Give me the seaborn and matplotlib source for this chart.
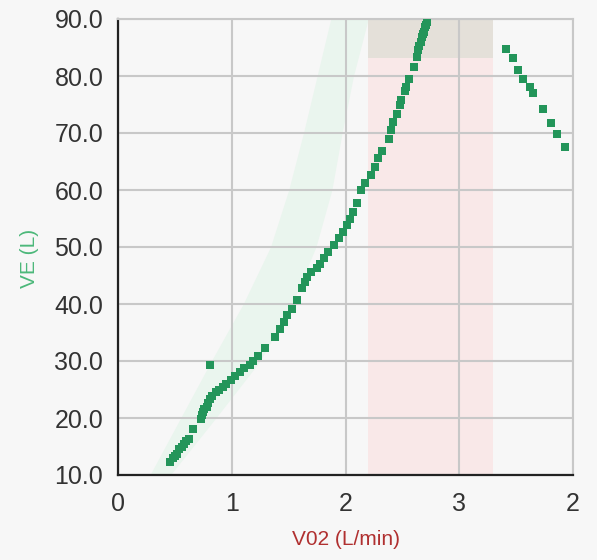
import matplotlib
matplotlib.use('Agg')
import matplotlib.pyplot as plt
import seaborn as sns
import pandas as pd

# ---- data ----
vo2 = [0.46, 0.48, 0.50, 0.52, 0.54, 0.56, 0.58, 0.60, 0.62, 0.66,
       0.73, 0.74, 0.75, 0.76, 0.78, 0.79, 0.81, 0.83, 0.86, 0.89,
       0.92, 0.95, 0.99, 1.03, 1.07, 1.11, 1.16, 1.19, 1.23, 1.29,
       1.38, 1.42, 1.46, 1.49, 1.53, 1.57, 1.62, 1.64, 1.66, 1.70,
       1.75, 1.78, 1.81, 1.85, 1.90, 1.94, 1.98, 2.01, 2.04, 2.07,
       2.10, 2.14, 2.17, 2.22, 2.26, 2.29, 2.32, 2.38, 2.40, 2.42,
       2.45, 2.48, 2.49, 2.52, 2.53, 2.56, 2.60, 2.63, 2.64, 2.65,
       2.66, 2.67, 2.68, 2.69, 2.70, 2.71, 2.72,
       0.81,
       3.41, 3.47, 3.52, 3.56, 3.62, 3.65, 3.74, 3.81, 3.86, 3.93]
ve = [12.2, 12.9, 13.3, 13.6, 14.5, 15.0, 15.5, 15.9, 16.4, 18.0,
      19.9, 20.5, 21.0, 21.5, 22.0, 22.7, 23.3, 23.9, 24.5, 25.0,
      25.5, 26.0, 26.7, 27.3, 28.1, 28.7, 29.3, 30.0, 30.8, 32.2,
      34.2, 35.7, 36.9, 38.1, 39.2, 40.7, 42.8, 43.9, 44.8, 45.7,
      46.3, 47.1, 48.0, 49.2, 50.4, 51.5, 52.7, 53.9, 55.0, 56.2,
      57.7, 60.0, 61.3, 62.6, 64.1, 65.6, 66.8, 68.9, 70.5, 71.9,
      73.3, 75.0, 75.8, 77.4, 78.1, 79.5, 81.6, 83.4, 84.6, 85.3,
      86.0, 86.9, 87.3, 87.8, 88.6, 89.0, 89.5,
      29.3,
      84.7, 83.2, 81.1, 79.4, 78.0, 77.0, 74.2, 71.7, 69.9, 67.6]

band_ve = [10, 20, 30, 40, 50, 60, 70, 80, 90]
band_left = [0.28, 0.55, 0.82, 1.10, 1.34, 1.50, 1.63, 1.75, 1.87]
band_right = [0.46, 0.86, 1.25, 1.53, 1.74, 1.88, 1.97, 2.07, 2.20]

zone_x = [2.2, 3.3]
zone_top = [83.2, 90.0]

x_ticks = [0, 1, 2, 3, 4]
x_labels = ["0", "1", "2", "3", "2"]
y_ticks = [10, 20, 30, 40, 50, 60, 70, 80, 90]
y_labels = ["10.0", "20.0", "30.0", "40.0", "50.0", "60.0", "70.0", "80.0", "90.0"]

df = pd.DataFrame({"VO2": vo2, "VE": ve})

sns.set_theme(style="whitegrid")
plt.rcParams['font.family'] = ['Liberation Sans', 'DejaVu Sans']

bg = '#f7f7f7'
fig = plt.figure(figsize=(5.97, 5.60), dpi=100, facecolor=bg)
ax = fig.add_axes([118/597, 1-475/560, (573-118)/597, (475-19)/560])
ax.set_facecolor(bg)

ax.fill_betweenx(band_ve, band_left, band_right, color='#eaf5ee', lw=0, zorder=0.1)
ax.axvspan(zone_x[0], zone_x[1], color='#f9e8e8', lw=0, zorder=0.1)
ax.fill_between(zone_x, zone_top[0], zone_top[1], color='#e4e0d9', lw=0, zorder=0.15)

sns.scatterplot(data=df, x="VO2", y="VE", marker='s', s=26, color='#23955a',
                linewidth=0, ax=ax, zorder=3)

ax.set_xlim(0, 4)
ax.set_ylim(10, 90)
ax.set_xticks(x_ticks)
ax.set_xticklabels(x_labels)
ax.set_yticks(y_ticks)
ax.set_yticklabels(y_labels)

ax.grid(True, color='#c8c8c8', lw=1.5)
ax.set_axisbelow(True)
ax.tick_params(axis='both', length=3.6, width=1.2, color='#999999',
               labelsize=18, labelcolor='#333333', direction='out')
ax.tick_params(axis='x', pad=8.5)
ax.tick_params(axis='y', pad=7)

for s in ['left', 'bottom']:
    ax.spines[s].set_color('#222222')
    ax.spines[s].set_linewidth(1.6)
for s in ['top', 'right']:
    ax.spines[s].set_color('#c8c8c8')
    ax.spines[s].set_linewidth(1.5)

ax.set_xlabel('V02 (L/min)', color='#b03030', fontsize=15, labelpad=10)
ax.set_ylabel('VE (L)', color='#4cb87a', fontsize=15, labelpad=11, y=0.476)

fig.savefig('out.png', dpi=100, facecolor=bg)
